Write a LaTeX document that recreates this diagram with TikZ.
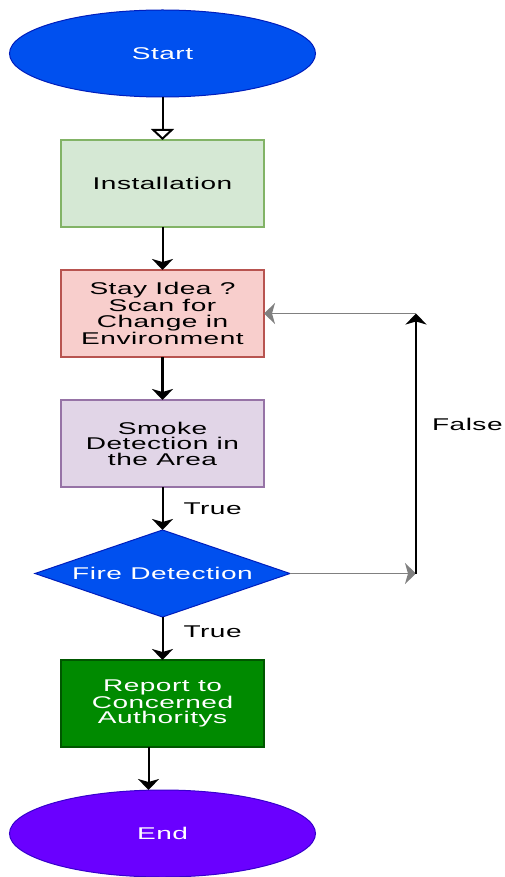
\documentclass[tikz,border=0pt]{standalone}
\usepackage{fontspec}
\setmainfont{Liberation Sans}[FakeStretch=1.65,LetterSpace=3]
\usetikzlibrary{positioning,shapes.geometric,arrows.meta}
\definecolor{startblue}{HTML}{0050EF}
\definecolor{startline}{HTML}{001DBC}
\definecolor{installfill}{HTML}{D5E8D4}
\definecolor{installline}{HTML}{82B366}
\definecolor{scanfill}{HTML}{F8CECC}
\definecolor{scanline}{HTML}{B85450}
\definecolor{smokefill}{HTML}{E1D5E7}
\definecolor{smokeline}{HTML}{9673A6}
\definecolor{reportfill}{HTML}{008A00}
\definecolor{reportline}{HTML}{005700}
\definecolor{endfill}{HTML}{6A00FF}
\definecolor{endline}{HTML}{3700CC}
\definecolor{loopgray}{HTML}{808080}
\tikzstyle{process} = [rectangle, minimum width=203pt, minimum height=87pt, inner sep=0pt, outer sep=0pt, align=center, line width=1.5pt, font=\fontsize{17}{15.5}\selectfont]
\tikzstyle{terminal} = [ellipse, minimum width=306pt, minimum height=87pt, inner sep=0pt, outer sep=0pt, text=white, line width=1pt, font=\fontsize{17}{15.5}\selectfont]
\tikzstyle{decision} = [diamond, aspect=2.93, minimum width=255pt, minimum height=87pt, inner sep=0pt, outer sep=0pt, text=white, line width=1pt, font=\fontsize{17}{15.5}\selectfont]
\tikzstyle{flowline} = [line width=2pt, -{Stealth[length=11pt,width=21pt,inset=3pt]}]
\tikzstyle{answer} = [inner sep=0pt, anchor=west, font=\fontsize{17}{15.5}\selectfont]

\begin{document}
\begin{tikzpicture}
	\useasboundingbox (0,0) rectangle (505pt,-877pt);
	\node[terminal, fill=startblue, draw=startline] (start) at (162.5pt,-53.5pt) {Start};
	\node[process, fill=installfill, draw=installline, below=43pt of start] (install) {Installation};
	\node[process, fill=scanfill, draw=scanline, below=43pt of install] (scan) {Stay Idea ?\\Scan for\\Change in\\Environment};
	\node[process, fill=smokefill, draw=smokeline, below=43pt of scan] (smoke) {Smoke\\Detection in\\the Area};
	\node[decision, fill=startblue, draw=startline, below=43pt of smoke] (fire) {Fire Detection};
	\node[process, fill=reportfill, draw=reportline, text=white, below=43pt of fire] (report) {Report to\\Concerned\\Authoritys};
	\node[terminal, fill=endfill, draw=endline, below=43pt of report] (end) {End};
	\coordinate[right=126pt of fire.east] (loopbottom);
	\coordinate (looptop) at (loopbottom |- scan.east);

	\draw[line width=2pt, -{Triangle[open, fill=white, length=11pt, width=23pt]}] (start) -- (install);
	\draw[flowline] (install) -- (scan);
	\draw[flowline, line width=3.5pt] (scan) -- (smoke);
	\draw[flowline] (smoke) -- node[answer, right=20pt] {True} (fire);
	\draw[flowline] (fire) -- node[answer, pos=0.35, right=20pt] {True} (report);
	\draw[flowline] ([xshift=-14pt]report.south) -- ([xshift=-14pt]end.north);
	\draw[flowline, line width=1.5pt, draw=loopgray] (fire.east) -- (loopbottom);
	\draw[flowline] (loopbottom) -- node[answer, pos=0.575, right=15pt] {False} (looptop);
	\draw[flowline, line width=1.5pt, draw=loopgray] (looptop) -- (scan.east);
\end{tikzpicture}
\end{document}
